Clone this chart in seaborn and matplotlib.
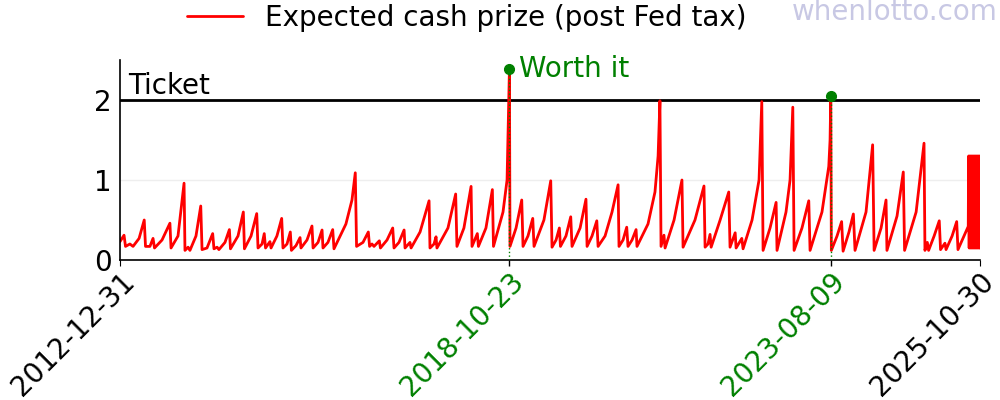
import pandas as pd
import seaborn as sns
import matplotlib.pyplot as plt

start = pd.Timestamp("2012-12-31")
end = pd.Timestamp("2025-10-30")

# draw days (since 2012-12-31) and expected cash value per $ ticket
days = [0, 22, 30, 54, 71, 104, 132, 139, 163, 180, 188, 229, 272, 278, 316, 349, 354, 371, 381,
        414, 440, 447, 474, 505, 512, 529, 539, 572, 596, 602, 643, 672, 678, 714, 745, 752, 774,
        786, 793, 817, 823, 855, 881, 888, 910, 928, 934, 959, 981, 986, 1019, 1046, 1052, 1079,
        1101, 1106, 1133, 1159, 1166, 1231, 1264, 1282, 1289, 1324, 1353, 1360, 1373, 1384, 1413,
        1419, 1455, 1486, 1493, 1520, 1548, 1553, 1580, 1586, 1635, 1684, 1689, 1711, 1722, 1727,
        1787, 1829, 1836, 1874, 1913, 1918, 1947, 1953, 1994, 2029, 2035, 2087, 2109, 2122, 2125,
        2158, 2189, 2196, 2223, 2249, 2256, 2310, 2347, 2354, 2376, 2394, 2400, 2430, 2456, 2463,
        2507, 2539, 2545, 2572, 2598, 2605, 2643, 2681, 2714, 2719, 2741, 2761, 2768, 2790, 2812,
        2817, 2877, 2915, 2932, 2942, 2948, 2964, 2970, 3019, 3062, 3068, 3133, 3182, 3188, 3204,
        3215, 3221, 3270, 3317, 3324, 3352, 3357, 3388, 3395, 3444, 3482, 3497, 3504, 3542, 3575,
        3580, 3629, 3651, 3666, 3673, 3716, 3753, 3760, 3825, 3862, 3869, 3873, 3876, 3907, 3932,
        3940, 3972, 3996, 4005, 4065, 4101, 4109, 4147, 4174, 4179, 4234, 4268, 4275, 4338, 4381,
        4386, 4399, 4406, 4436, 4464, 4471, 4495, 4501, 4534, 4559, 4566, 4599, 4622,
        4624, 4627, 4630, 4633, 4636, 4639, 4642, 4645, 4648, 4651, 4654, 4657, 4660, 4663,
        4666, 4669, 4672, 4675, 4678, 4681, 4684, 4686]
prize = [0.23, 0.31, 0.17, 0.2, 0.17, 0.27, 0.5, 0.17, 0.17, 0.27, 0.15, 0.25, 0.46, 0.15, 0.3,
         0.96, 0.12, 0.16, 0.12, 0.3, 0.675, 0.13, 0.15, 0.33, 0.14, 0.16, 0.13, 0.22, 0.38, 0.14,
         0.3, 0.6, 0.14, 0.3, 0.58, 0.15, 0.2, 0.33, 0.15, 0.23, 0.15, 0.3, 0.52, 0.15, 0.2, 0.35,
         0.12, 0.18, 0.28, 0.15, 0.25, 0.425, 0.15, 0.22, 0.375, 0.15, 0.22, 0.38, 0.14, 0.45,
         0.75, 1.09, 0.17, 0.22, 0.35, 0.17, 0.2, 0.17, 0.24, 0.15, 0.25, 0.4, 0.15, 0.22, 0.375,
         0.15, 0.22, 0.15, 0.35, 0.74, 0.15, 0.2, 0.29, 0.15, 0.4, 0.825, 0.17, 0.4, 0.92, 0.17,
         0.33, 0.17, 0.4, 0.88, 0.17, 0.6, 1.0, 2.39, 0.17, 0.4, 0.75, 0.17, 0.3, 0.52, 0.17, 0.5,
         0.99, 0.16, 0.25, 0.4, 0.17, 0.3, 0.54, 0.17, 0.4, 0.76, 0.17, 0.3, 0.49, 0.17, 0.3, 0.6,
         0.94, 0.17, 0.25, 0.41, 0.17, 0.25, 0.38, 0.17, 0.45, 0.85, 1.3, 1.99, 0.17, 0.31, 0.15,
         0.5, 1.0, 0.16, 0.5, 0.925, 0.16, 0.2, 0.32, 0.16, 0.5, 0.85, 0.16, 0.34, 0.15, 0.27,
         0.14, 0.5, 1.0, 1.98, 0.12, 0.4, 0.72, 0.12, 0.6, 1.0, 1.91, 0.12, 0.4, 0.74, 0.12, 0.6,
         1.17, 1.5, 2.05, 0.12, 0.3, 0.48, 0.11, 0.35, 0.575, 0.12, 0.6, 1.44, 0.12, 0.4, 0.75,
         0.12, 0.55, 1.1, 0.12, 0.6, 1.46, 0.12, 0.22, 0.12, 0.3, 0.49, 0.13, 0.21, 0.13, 0.3,
         0.48, 0.13, 0.3, 0.42,
         1.3, 0.15, 1.3, 0.15, 1.3, 0.15, 1.3, 0.15, 1.3, 0.15, 1.3, 0.15, 1.3, 0.15,
         1.3, 0.15, 1.3, 0.15, 1.3, 0.15, 1.3, 0.15]

worth_dates = ["2018-10-23", "2023-08-09"]
worth_vals = [2.39, 2.05]
ticket = 2

df = pd.DataFrame({"date": start + pd.to_timedelta(days, unit="D"), "prize": prize})

sns.set_style("white")
plt.rcParams["font.family"] = ["DejaVu Sans"]
plt.rcParams["text.color"] = "black"
plt.rcParams["xtick.color"] = "black"
plt.rcParams["ytick.color"] = "black"

fig = plt.figure(figsize=(10, 4), dpi=100)
ax = fig.add_axes([0.12, 0.35, 0.86, 0.5])

sns.lineplot(x="date", y="prize", data=df, ax=ax, color="red", lw=2,
             label="Expected cash prize (post Fed tax)")
ax.axhline(ticket, color="black", lw=2, zorder=1)
ax.text(start + pd.Timedelta(days=45), ticket + 0.0, "Ticket", fontsize=20, va="bottom")

wd = pd.to_datetime(worth_dates)
for d, v in zip(wd, worth_vals):
    ax.vlines(d, 0, v, color="green", ls=":", lw=1, zorder=3)
ax.plot(wd, worth_vals, "o", color="green", ms=7, zorder=4)
ax.text(wd[0] + pd.Timedelta(days=50), worth_vals[0], "Worth it", color="green",
        fontsize=20, va="center")

ax.set_xlim(start, end)
ax.set_ylim(0, 2.5)
ax.set_yticks([0, 1, 2])
ticks = [start, wd[0], wd[1], end]
ax.set_xticks(ticks)
ax.set_xticklabels([t.strftime("%Y-%m-%d") for t in ticks], rotation=45, ha="right",
                   rotation_mode="anchor")
ax.tick_params(axis="both", labelsize=20, labelcolor="black")
ax.tick_params(axis="x", length=4, pad=1, color="black", bottom=True)
ax.tick_params(axis="y", length=0, pad=6)
for i, lab in enumerate(ax.get_xticklabels()):
    lab.set_color("green" if i in (1, 2) else "black")
for i, tk in enumerate(ax.xaxis.get_major_ticks()):
    if i in (1, 2):
        tk.tick1line.set_color("green")
        tk.tick1line.set_markeredgewidth(1)
ax.set_xlabel("")
ax.set_ylabel("")
ax.yaxis.grid(True, color="#eeeeee", lw=1)
ax.set_axisbelow(True)
sns.despine(ax=ax)
for s in ["left", "bottom"]:
    ax.spines[s].set_color("black")
    ax.spines[s].set_linewidth(1.2)

leg = ax.legend(loc="center", bbox_to_anchor=(0.467, 0.955), bbox_transform=fig.transFigure,
                frameon=False, fontsize=20)
for t in leg.get_texts():
    t.set_color("black")
fig.text(0.998, 0.97, "whenlotto.com", color="#c8c8e4", fontsize=20, ha="right", va="center")

fig.savefig("out.png", dpi=100)
